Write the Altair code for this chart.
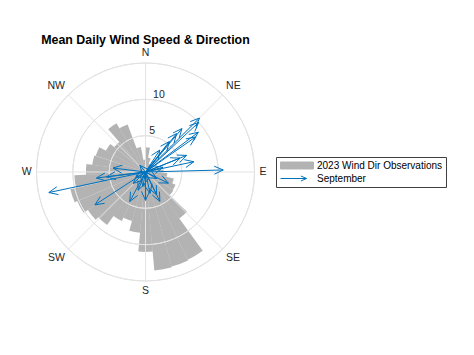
import math
import altair as alt
import pandas as pd

# ---------------- data ----------------
# 2023 wind-direction histogram: 35 equal bins starting at North, clockwise
bin_counts = [3.4, 2.0, 1.2, 1.0, 1.0, 1.2, 1.5, 2.0, 2.5, 3.0,
              4.0, 4.5, 4.6, 7.9, 13.4, 13.5, 13.6, 11.0, 8.4, 7.0,
              7.5, 9.0, 9.5, 10.2, 10.6, 9.8, 8.2, 7.4, 7.2, 6.2,
              5.5, 7.8, 7.0, 3.5, 1.7]

# September daily mean wind (speed, direction toward, degrees clockwise from N)
sep_speed = [10.5, 10.0, 9.1, 8.4, 7.8, 6.8, 5.3, 6.1, 6.8, 5.1, 10.7, 3.6, 2.5,
             13.6, 6.8, 5.4, 4.5, 8.3,
             4.6, 3.9, 4.5, 3.5, 3.5, 2.3, 2.7, 3.0, 1.8, 2.0, 1.5, 1.2]
sep_dir = [45, 47, 53, 55, 40, 39, 38, 68, 78, 68, 88.5, 33, 75,
           258, 263, 263, 277, 237,
           208, 180, 154, 154, 116, 227, 202, 168, 120, 190, 240, 320]

ring_values = [5, 10, 15]
r_tick_labels = [5, 10]
compass_labels = ["N", "NE", "E", "SE", "S", "SW", "W", "NW"]
compass_angles = [0, 45, 90, 135, 180, 225, 270, 315]
legend_names = ["2023 Wind Dir Observations", "September"]

title_text = "Mean Daily Wind Speed & Direction"

# ---------------- layout constants ----------------
R_MAX = 15.0
PLOT = 218            # plot area (square) in px
FONT = "Liberation Sans"
TXT = "#262626"
GRID = "#e3e3e3"
BLUE = "#0072BD"

xs = alt.Scale(domain=[-R_MAX, R_MAX], range=[0, PLOT])
ys = alt.Scale(domain=[-R_MAX, R_MAX], range=[PLOT, 0])
X = lambda f: alt.X(f, scale=xs, axis=None)
Y = lambda f: alt.Y(f, scale=ys, axis=None)


def pol(r, deg):
    a = math.radians(deg)
    return r * math.sin(a), r * math.cos(a)


# histogram wedges
w = 360.0 / len(bin_counts)
df_bins = pd.DataFrame({
    "t0": [k * w for k in range(len(bin_counts))],
    "t1": [(k + 1) * w for k in range(len(bin_counts))],
    "r": bin_counts,
})
theta_scale = alt.Scale(domain=[0, 360], range=[0, 2 * math.pi])
rad_scale = alt.Scale(domain=[0, R_MAX], range=[0, PLOT / 2], zero=True)

bars = alt.Chart(df_bins).mark_arc(color="#808080", opacity=0.6).encode(
    theta=alt.Theta("t0:Q", scale=theta_scale),
    theta2="t1:Q",
    radius=alt.Radius("r:Q", scale=rad_scale),
)

# rings
df_rings = pd.DataFrame({"t0": [0] * len(ring_values), "t1": [360] * len(ring_values),
                         "r": ring_values})
rings = alt.Chart(df_rings).mark_arc(filled=False, color=GRID, strokeWidth=1).encode(
    theta=alt.Theta("t0:Q", scale=theta_scale),
    theta2="t1:Q",
    radius=alt.Radius("r:Q", scale=rad_scale),
    radius2="r:Q",
)

# spokes
sp = []
for a in compass_angles:
    x2, y2 = pol(R_MAX, a)
    sp.append({"x": 0.0, "y": 0.0, "x2": x2, "y2": y2})
spokes = alt.Chart(pd.DataFrame(sp)).mark_rule(color=GRID, strokeWidth=1).encode(
    x=X("x:Q"), y=Y("y:Q"), x2="x2:Q", y2="y2:Q",
)

# arrows (shaft + two barbs)
HEAD = 1.35
HALF = 24
segs = []
for s, d in zip(sep_speed, sep_dir):
    tx, ty = pol(s, d)
    segs.append({"x": 0.0, "y": 0.0, "x2": tx, "y2": ty})
    for sgn in (-1, 1):
        bx, by = pol(HEAD, d + sgn * HALF)
        segs.append({"x": tx, "y": ty, "x2": tx - bx, "y2": ty - by})
arrows = alt.Chart(pd.DataFrame(segs)).mark_rule(color=BLUE, strokeWidth=1).encode(
    x=X("x:Q"), y=Y("y:Q"), x2="x2:Q", y2="y2:Q",
)

# compass labels: anchored just outside the outer ring, aligned by quadrant
LAB_R = 15.68
cl = []
for lab, a in zip(compass_labels, compass_angles):
    x, y = pol(LAB_R, a)
    s = math.sin(math.radians(a))
    c = math.cos(math.radians(a))
    align = "center" if abs(s) < 1e-6 else ("left" if s > 0 else "right")
    base = "middle" if abs(c) < 1e-6 else ("bottom" if c > 0 else "top")
    cl.append({"lab": lab, "x": x, "y": y, "al": align, "bl": base})
df_cl = pd.DataFrame(cl)
comp_layers = []
for (al, bl), sub in df_cl.groupby(["al", "bl"]):
    comp_layers.append(
        alt.Chart(sub).mark_text(font=FONT, fontSize=10.5, color=TXT, align=al, baseline=bl)
        .encode(x=X("x:Q"), y=Y("y:Q"), text="lab:N")
    )

# radial tick labels
rl = []
for v in r_tick_labels:
    x, y = pol(v, 6)
    rl.append({"lab": str(v), "x": x, "y": y})
r_text = alt.Chart(pd.DataFrame(rl)).mark_text(
    font=FONT, fontSize=10.5, color=TXT, align="left", baseline="bottom"
).encode(x=X("x:Q"), y=Y("y:Q"), text="lab:N")

# legend carrier (invisible points)
rect_path = "M-0.8,-0.7H5.8V0.7H-0.8Z"
arrow_path = "M-0.8,0H4.4M3.28,-0.5L4.4,0L3.28,0.5"
leg_common = dict(title=None, orient="none", legendX=239.5, legendY=94,
                  symbolSize=100, symbolStrokeWidth=1, symbolOpacity=1,
                  labelFont=FONT, labelFontSize=10, labelColor="#000000",
                  labelOffset=27, strokeColor="#404040", fillColor="white",
                  padding=3, rowPadding=2)
df_leg = pd.DataFrame({"series": legend_names, "x": [0.0, 0.0], "y": [0.0, 0.0]})
legend_layer = alt.Chart(df_leg).mark_point(opacity=0).encode(
    x=X("x:Q"), y=Y("y:Q"),
    shape=alt.Shape("series:N", scale=alt.Scale(domain=legend_names, range=[rect_path, arrow_path]),
                    legend=alt.Legend(**leg_common)),
    fill=alt.Fill("series:N", scale=alt.Scale(domain=legend_names, range=["#b3b3b3", "transparent"]),
                  legend=alt.Legend(**leg_common)),
    stroke=alt.Stroke("series:N", scale=alt.Scale(domain=legend_names, range=["#b3b3b3", BLUE]),
                      legend=alt.Legend(**leg_common)),
)

chart = alt.layer(bars, rings, spokes, arrows, *comp_layers, r_text, legend_layer).properties(
    width=PLOT, height=PLOT,
    title=alt.TitleParams(title_text, font=FONT, fontSize=12.4, fontWeight="bold",
                          color="#000000", anchor="middle", offset=2),
    autosize=alt.AutoSizeParams(type="none"),
    padding={"left": 36.5, "top": 63, "right": 474 - 36.5 - PLOT, "bottom": 355 - 63 - PLOT},
).configure_view(stroke=None)

chart.save("out.html", embed_options={"renderer": "svg", "actions": False})
